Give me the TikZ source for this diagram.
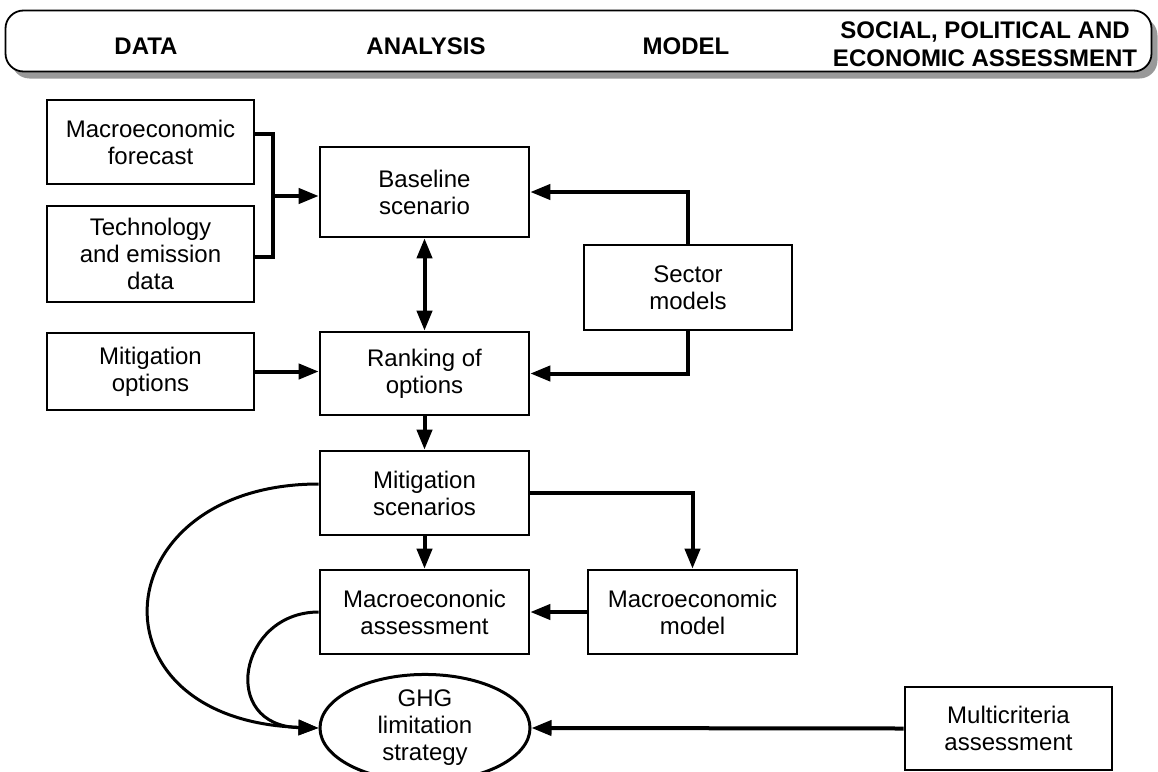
\documentclass[tikz,border=0pt]{standalone}
\usepackage{fontspec}
\setmainfont{Liberation Sans}
\usetikzlibrary{arrows.meta,shapes.geometric,shadows}
\begin{document}
\begin{tikzpicture}[x=1pt,y=-1pt,
  box/.style={draw,line width=2.6pt,rectangle,inner sep=0pt,align=center,
    font=\fontsize{24}{27}\selectfont},
  hdrtext/.style={font=\bfseries\fontsize{24}{28}\selectfont,align=center,inner sep=0pt},
  conn/.style={line width=4pt},
  arr/.style={line width=4pt,-{Triangle[length=20pt,width=15pt]}},
  arrboth/.style={line width=4pt,{Triangle[length=20pt,width=15pt]}-{Triangle[length=20pt,width=15pt]}},
  arrthin/.style={line width=3pt,-{Triangle[length=20pt,width=15pt]}}
]
\useasboundingbox (0,0) rectangle (1158,771);

% header
\node[draw,line width=1.8pt,rounded corners=18pt,minimum width=1146pt,minimum height=61pt,
  fill=white,drop shadow={shadow xshift=6pt,shadow yshift=-7pt,fill=black!40,opacity=1}]
  (hdr) at (578.5,41) {};
\node[hdrtext] (hdata) at (146,46) {DATA};
\node[hdrtext] (hana) at (426,46) {ANALYSIS};
\node[hdrtext] (hmod) at (686,46) {MODEL};
\node[hdrtext] (hsoc) at (985,44) {SOCIAL, POLITICAL AND\\ECONOMIC ASSESSMENT};

% boxes
\node[box,minimum width=207pt,minimum height=84pt] (mf) at (150.5,142) {Macroeconomic\\forecast};
\node[box,minimum width=207pt,minimum height=96pt] (tech) at (150.5,254) {Technology\\and emission\\data};
\node[box,minimum width=209pt,minimum height=90pt] (base) at (424.5,192) {Baseline\\scenario};
\node[box,minimum width=208pt,minimum height=85pt] (sector) at (688,287.5) {Sector\\models};
\node[box,minimum width=209pt,minimum height=83pt] (rank) at (424.5,373.5) {Ranking of\\options};
\node[box,minimum width=207pt,minimum height=77pt] (mitopt) at (150.5,371.5) {Mitigation\\options};
\node[box,minimum width=209pt,minimum height=84pt] (mitscen) at (424.5,493) {Mitigation\\scenarios};
\node[box,minimum width=209pt,minimum height=84pt] (maca) at (424.5,612) {Macroecononic\\assessment};
\node[box,minimum width=209pt,minimum height=84pt] (macm) at (692.5,612) {Macroeconomic\\model};
\node[box,ellipse,line width=3pt,minimum width=210pt,minimum height=94pt] (ghg) at (425,728) {GHG\\limitation\\strategy};
\node[box,minimum width=207pt,minimum height=83pt] (multi) at (1008.5,728.5) {Multicriteria\\assessment};

% connectors
\coordinate (bx) at (273,196);
\draw[conn] ([yshift=8pt]mf.east) -| (bx) |- ([yshift=-3pt]tech.east);
\draw[arr] (bx) -- (bx -| base.west);
\draw[arr] (sector.north) |- (base.east);
\draw[arr] (sector.south) |- (rank.east);
\draw[arr] (mitopt.east) -- (mitopt.east -| rank.west);
\draw[arrboth] (base.south) -- (rank.north);
\draw[arr] (rank.south) -- (mitscen.north);
\draw[arr] (mitscen.east) -| (macm.north);
\draw[arr] (mitscen.south) -- (maca.north);
\draw[arr] (macm.west) -- (maca.east);
\draw[arr] (multi.west) -- (ghg.east);
\draw[arrthin] ([yshift=9pt]mitscen.west) .. controls +(-215,0) and +(-235,-8) .. (ghg.west);
\draw[arrthin] (maca.west) .. controls +(-80,0) and +(-100,-2) .. (ghg.west);
\end{tikzpicture}
\end{document}
